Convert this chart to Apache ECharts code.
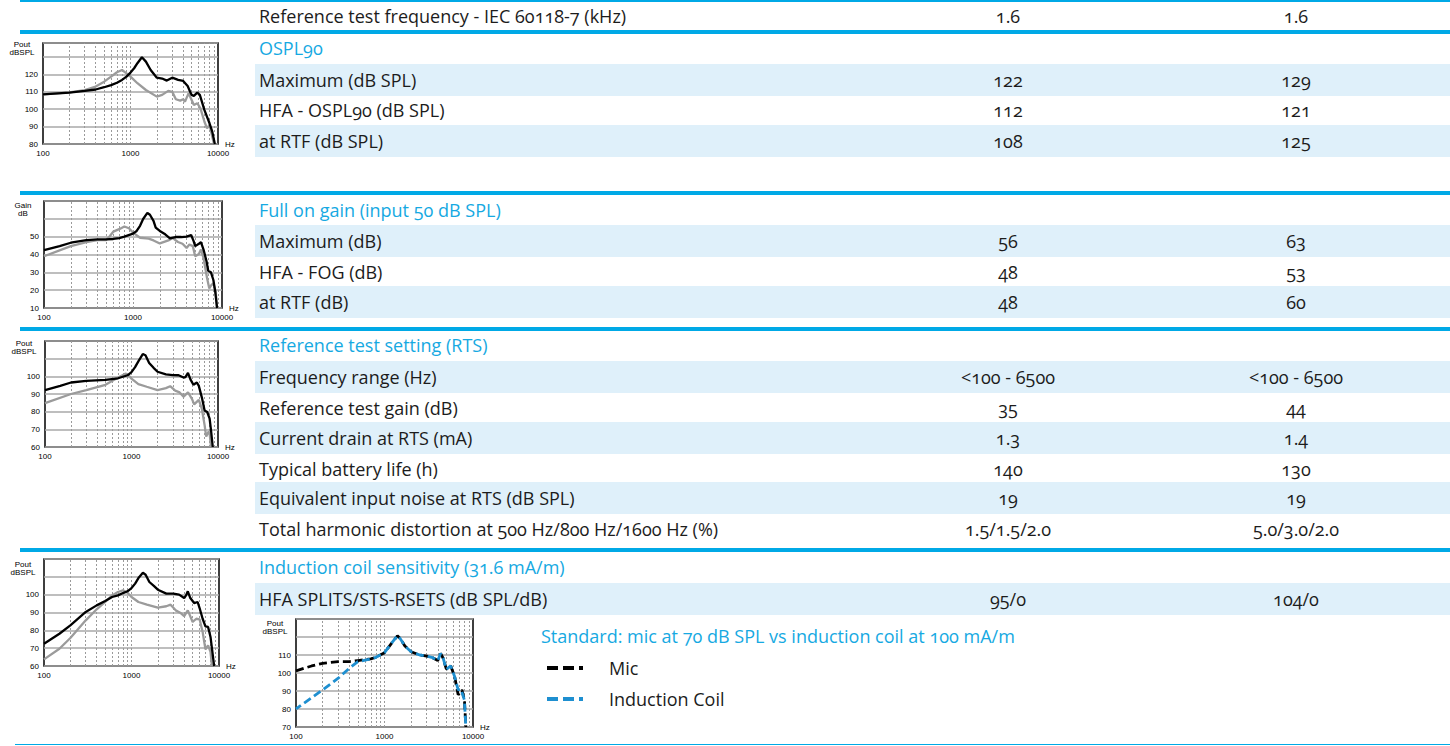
<!DOCTYPE html>
<html>
<head>
<meta charset="utf-8">
<script src="https://cdn.jsdelivr.net/npm/echarts@6/dist/echarts.min.js"></script>
<style>
  html, body { margin:0; padding:0; background:#fff; }
  body { width:1450px; height:746px; overflow:hidden; position:relative; font-family:'Open Sans','Noto Sans',sans-serif; }
  .rule { position:absolute; background:#00a9e6; right:0; }
  .stripe { position:absolute; left:255px; width:1195px; height:32px; background:#dff0fa; }
  .t { position:absolute; font-size:18px; line-height:22px; height:22px; white-space:nowrap; color:#1c1c1c; font-variant-numeric:oldstyle-nums; }
  .h { color:#16a9e2; }
  .c { transform:translateX(-50%); }
  #chart { position:absolute; left:0; top:0; width:1450px; height:746px; }
</style>
</head>
<body>
<div id="bg"></div>
<div id="chart"></div>
<script>
// ---------------- table data ----------------
const rowLabels = [
  'Reference test frequency - IEC 60118-7 (kHz)',
  'OSPL90',
  'Maximum (dB SPL)',
  'HFA - OSPL90 (dB SPL)',
  'at RTF (dB SPL)',
  'Full on gain (input 50 dB SPL)',
  'Maximum (dB)',
  'HFA - FOG (dB)',
  'at RTF (dB)',
  'Reference test setting (RTS)',
  'Frequency range (Hz)',
  'Reference test gain (dB)',
  'Current drain at RTS (mA)',
  'Typical battery life (h)',
  'Equivalent input noise at RTS (dB SPL)',
  'Total harmonic distortion at 500 Hz/800 Hz/1600 Hz (%)',
  'Induction coil sensitivity (31.6 mA/m)',
  'HFA SPLITS/STS-RSETS (dB SPL/dB)'
];
const valuesA = ['1.6','','122','112','108','','56','48','48','','<100 - 6500','35','1.3','140','19','1.5/1.5/2.0','','95/0'];
const valuesB = ['1.6','','129','121','125','','63','53','60','','<100 - 6500','44','1.4','130','19','5.0/3.0/2.0','','104/0'];
const rowIsHeading = [0,1,0,0,0,1,0,0,0,1,0,0,0,0,0,0,1,0];
const rowIsStriped = [0,0,1,0,1,0,1,0,1,0,1,0,1,0,1,0,0,1];
const legendTitle = 'Standard: mic at 70 dB SPL vs induction coil at 100 mA/m';
const legendNames = ['Mic','Induction Coil'];

// ---------------- chart data (Hz, dB) ----------------
const freqTickLabels = ['100','1000','10000'];
const minorFreqs = [200,300,400,500,600,700,800,900,1000,2000,3000,4000,5000,6000,7000,8000,9000];

const osplBlack = [[100,108.5],[200,109.5],[300,110.5],[400,111.3],[500,112.6],[600,113.8],[700,115.2],[800,116.8],[900,118.7],[1000,121],[1100,123.5],[1200,126.4],[1350,129.8],[1500,127.3],[1700,122.5],[2000,118.1],[2300,117.6],[2600,116.4],[3000,118.1],[3500,116.8],[4000,116.2],[4500,113.3],[4800,110],[5000,108.2],[5300,107.6],[5800,109.5],[6200,108.2],[7000,99.5],[8000,91.9],[8600,87.1],[9200,80]];
const osplGray = [[100,108.5],[200,109.7],[300,111],[400,113],[500,115.8],[600,118.7],[700,121.2],[800,122.5],[900,120.6],[1000,118.7],[1200,114.9],[1500,111],[2000,107.2],[2300,108.2],[2700,110.5],[3000,110],[3300,105.7],[3700,104.9],[4000,105.7],[4200,104.3],[4600,109.1],[5000,105.3],[5300,102.4],[5800,103.4],[6300,100.5],[7000,92.8],[7500,89],[8000,90.9],[8600,84.2],[9000,80]];

const gainBlack = [[100,42.4],[150,44.7],[200,46.6],[300,48.1],[400,48.5],[500,48.5],[600,48.7],[700,49.2],[800,50],[1000,51.7],[1100,53.2],[1200,56.1],[1300,59.9],[1450,63.3],[1550,62.3],[1700,58.9],[1800,55.1],[2000,53.2],[2300,51.3],[2600,49.1],[3000,49.8],[3500,49.8],[4000,50],[4500,50.9],[4800,47.5],[5000,44.7],[5500,46],[5800,47],[6200,42.8],[6700,36.2],[7000,30.9],[7500,30.1],[8000,25.7],[8400,19.1],[8800,10]];
const gainGray = [[100,39],[200,44.7],[300,47],[400,48.1],[500,48.1],[550,50.4],[600,52.8],[700,54.2],[800,55.7],[900,54.7],[1000,52.3],[1200,49.4],[1500,48.9],[1700,47.9],[2000,46.2],[2500,47.9],[2800,49.2],[3200,47],[3600,46],[4000,43.7],[4300,45.6],[4700,44.7],[5000,39],[5500,40.3],[5800,42.8],[6200,38],[6800,26.7],[7200,21],[7600,22.9],[8000,23.8],[8500,19.1],[8800,10]];

const rtsBlack = [[100,92.2],[150,94.6],[200,96.5],[300,97.4],[500,98],[700,98.9],[900,100.6],[1000,102.4],[1100,105.2],[1200,108.5],[1350,112.6],[1450,111.9],[1600,107.6],[1800,104.8],[2000,102.6],[2500,101.1],[3000,100.7],[3500,100.6],[4000,99.3],[4200,99.6],[4500,102],[4800,98.3],[5200,95.2],[5700,96.5],[6000,94.6],[6500,88.1],[7000,80.7],[7500,79.8],[8000,76.1],[8300,69.6],[8700,60]];
const rtsGray = [[100,84.8],[200,90],[300,92.2],[500,95.2],[700,99.3],[850,101.5],[900,101.1],[1000,98.7],[1200,95.6],[1500,94.1],[2000,92.2],[2500,93.3],[2800,94.4],[3200,91.9],[3600,90.9],[4000,88.5],[4500,90.9],[5000,87.2],[5300,84.1],[6000,86.7],[6500,81.7],[7000,72.4],[7300,65.9],[7800,68.7],[8000,67.8],[8300,60]];

const coilBlack = [[100,72.5],[150,78.1],[200,82.8],[300,90.3],[400,94],[500,96.4],[600,98.7],[700,99.6],[800,100.9],[900,101.9],[1000,103.7],[1100,106.2],[1200,109.3],[1350,112.3],[1450,111.2],[1600,107.1],[1800,104.9],[2000,102.8],[2500,100.6],[3000,100.6],[3500,100],[4000,98.1],[4200,99.6],[4400,101.9],[4700,98.1],[5200,95.3],[5700,95.9],[6000,92.5],[6500,86.5],[7000,82.2],[7500,81.9],[8000,76.3],[8500,66],[8800,60]];
const coilGray = [[100,63.7],[150,69.7],[200,75.7],[300,85.6],[400,91.8],[500,95.9],[600,99.6],[700,101.5],[800,102.4],[900,101.1],[1000,98.7],[1200,95.9],[1500,94.4],[2000,92.7],[2500,93.5],[2800,94.4],[3200,91.2],[3600,89.9],[4000,88],[4400,91.2],[5000,84.7],[5500,86.5],[6000,86.2],[6500,79.1],[7000,69.3],[7500,71.6],[8000,67.9],[8300,60]];

const stdMic = [[100,101.2],[150,103.9],[200,105.4],[300,106.3],[400,106.3],[500,106.9],[700,107.8],[800,108.7],[1000,111.3],[1200,116.5],[1400,120.7],[1500,119.2],[1700,115],[2000,111.8],[2500,110],[3000,109.4],[3500,108.5],[4000,106.9],[4300,110.9],[4600,108.2],[5000,102.1],[5600,103.9],[6200,98],[6800,87.9],[7500,90.6],[8000,85.1],[8300,70]];
const stdCoil = [[100,80.1],[200,90.6],[300,97.1],[400,102.6],[500,106.3],[700,107.8],[800,108.7],[1000,111.3],[1200,116.5],[1400,120.7],[1500,119.2],[1700,115],[2000,111.8],[2500,110],[3000,109.4],[3500,108.5],[4000,106.9],[4300,110.9],[4600,108.2],[5000,102.1],[5600,103.9],[6200,98],[6800,90.6],[7300,91],[8000,85],[8300,70]];

const yAxisTitles = ['Pout\ndBSPL','Gain\ndB','Pout\ndBSPL','Pout\ndBSPL','Pout\ndBSPL'];
const yMin = [80,10,60,60,70];
const yMax = [138,70,120,120,130];
const yLabelMax = [120,50,100,100,110];

// ---------------- layout (positions, not data) ----------------
const rowCenterY = [16,48,80,110,141,210,241,272,302,345,377,408,438,469,498,529,567,599];
const colX = [259, 1008, 1296];
const rules = [{x:20,y:0,h:1.5},{x:20,y:30,h:3.5},{x:20,y:191,h:3.5},{x:20,y:327,h:3.5},{x:20,y:548,h:3.5},{x:15,y:743.5,h:1.5}];
const gridBoxes = [
  {left:43, top:43, width:175, height:101, titleY:40},
  {left:44, top:201, width:178, height:107, titleY:201},
  {left:45, top:341, width:173, height:106, titleY:339},
  {left:44, top:559, width:175, height:107, titleY:560},
  {left:296, top:619, width:177, height:108, titleY:619}
];
// dashed legend icon shape: two dashes and a short block
const dashIcon = 'path://M0,0h11v4h-11z M16,0h11v4h-11z M32,0h4v4h-4z';

// ---------------- build table (HTML) ----------------
const bg = document.getElementById('bg');
function add(cls, css, text) {
  const d = document.createElement('div');
  d.className = cls;
  Object.assign(d.style, css);
  if (text !== undefined) d.textContent = text;
  bg.appendChild(d);
}
rules.forEach(r => add('rule', {left:r.x+'px', top:r.y+'px', height:r.h+'px'}));
rowLabels.forEach((lab, i) => {
  const c = rowCenterY[i];
  if (rowIsStriped[i]) add('stripe', {top:(c-16.5)+'px'});
  add('t' + (rowIsHeading[i] ? ' h' : ''), {left:colX[0]+'px', top:(c-11)+'px'}, lab);
  if (valuesA[i]) add('t c', {left:colX[1]+'px', top:(c-11)+'px'}, valuesA[i]);
  if (valuesB[i]) add('t c', {left:colX[2]+'px', top:(c-11)+'px'}, valuesB[i]);
});
add('t h', {left:'541px', top:(636-11)+'px'}, legendTitle);

// ---------------- charts (ECharts) ----------------
const chartFont = "'Liberation Sans', Arial, sans-serif";
const seriesSets = [
  [osplGray, osplBlack],
  [gainGray, gainBlack],
  [rtsGray, rtsBlack],
  [coilGray, coilBlack]
];

const grid = gridBoxes.map(g => ({
  left:g.left, top:g.top, width:g.width, height:g.height,
  show:true, borderColor:'#000', borderWidth:1.5, backgroundColor:'transparent'
}));
const xAxis = gridBoxes.map((g, i) => ({
  type:'log', logBase:10, gridIndex:i, min:100, max:10000,
  axisLine:{show:false}, axisTick:{show:false},
  axisLabel:{fontSize:8, color:'#000', margin:5, fontFamily:chartFont,
    formatter: v => { const s = String(Math.round(v)); return freqTickLabels.indexOf(s) >= 0 ? s : ''; }},
  splitLine:{show:false},
  name:'Hz', nameLocation:'end', nameGap:7,
  nameTextStyle:{fontSize:8, color:'#000', fontFamily:chartFont}
}));
const yAxis = gridBoxes.map((g, i) => ({
  type:'value', gridIndex:i, min:yMin[i], max:yMax[i], interval:10,
  axisLine:{show:false}, axisTick:{show:false},
  axisLabel:{fontSize:8, color:'#000', margin:5, fontFamily:chartFont,
    formatter: v => (v <= yLabelMax[i] ? String(v) : '')},
  splitLine:{show:true, lineStyle:{color:'#a8a8a8', width:1.5}}
}));

const minorMarkLine = {
  silent:true, symbol:['none','none'], label:{show:false}, z:1, animation:false,
  lineStyle:{color:'#9a9a9a', width:1, type:[2,2]},
  emphasis:{disabled:true},
  data: minorFreqs.map(f => ({xAxis:f}))
};

const series = [];
seriesSets.forEach((pair, i) => {
  series.push({
    type:'line', name:'gray'+i, xAxisIndex:i, yAxisIndex:i, data:pair[0],
    showSymbol:false, symbol:'none', z:3, animation:false,
    lineStyle:{color:'#9b9b9b', width:2.3}, markLine:minorMarkLine
  });
  series.push({
    type:'line', name:'black'+i, xAxisIndex:i, yAxisIndex:i, data:pair[1],
    showSymbol:false, symbol:'none', z:4, animation:false,
    lineStyle:{color:'#000', width:2.3}
  });
});
series.push({
  type:'line', name:legendNames[0], xAxisIndex:4, yAxisIndex:4, data:stdMic,
  showSymbol:false, symbol:'none', z:3, animation:false, color:'#000',
  lineStyle:{color:'#000', width:2.8, type:[8,4]}, markLine:minorMarkLine
});
series.push({
  type:'line', name:legendNames[1], xAxisIndex:4, yAxisIndex:4, data:stdCoil,
  showSymbol:false, symbol:'none', z:4, animation:false, color:'#1e8fd0',
  lineStyle:{color:'#1e8fd0', width:2.8, type:[8,4], dashOffset:2}
});

const graphic = gridBoxes.map((g, i) => ({
  type:'text', x:g.left - 21, y:g.titleY, z:10,
  style:{text:yAxisTitles[i], fontSize:8, lineHeight:8.5, fontFamily:chartFont,
    fill:'#000', align:'center', verticalAlign:'top'}
}));

const chart = echarts.init(document.getElementById('chart'), null, {renderer:'svg', width:1450, height:746});
chart.setOption({
  animation:false,
  backgroundColor:'transparent',
  grid, xAxis, yAxis, series, graphic,
  legend:{
    data: legendNames.map(n => ({name:n, icon:dashIcon})),
    orient:'vertical', left:547, top:657, padding:0,
    itemWidth:36, itemHeight:4, itemGap:9, selectedMode:false,
    textStyle:{fontSize:18, lineHeight:22, fontFamily:"'Open Sans','Noto Sans',sans-serif", color:'#1c1c1c', padding:[0,0,0,21]}
  }
});
</script>
</body>
</html>
